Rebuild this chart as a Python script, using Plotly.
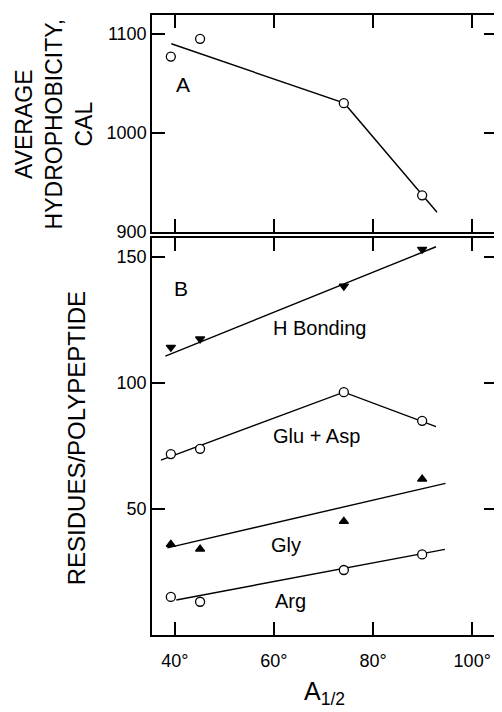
import plotly.graph_objects as go

# Sample positions (A 1/2, degrees)
x_samples = [39.2, 45.1, 74.1, 89.9]

# Panel A: average hydrophobicity (cal)
hydro = [1077, 1095, 1030, 937]
hydro_fit_x = [39.3, 74.2, 92.9]
hydro_fit_y = [1090, 1030, 920]

# Panel B: residues / polypeptide
h_bond = [114.2, 117.5, 138.5, 153.1]
h_bond_fit_x = [38.1, 92.7]
h_bond_fit_y = [110.7, 154.1]

glu_asp = [71.8, 73.9, 96.4, 85.0]
glu_asp_fit_x = [37.2, 74.1, 92.7]
glu_asp_fit_y = [69.4, 96.4, 82.7]

gly = [36.0, 34.1, 45.1, 61.9]
gly_fit_x = [38.5, 94.6]
gly_fit_y = [34.6, 60.2]

arg = [15.1, 13.2, 25.8, 32.0]
arg_fit_x = [40.3, 94.5]
arg_fit_y = [13.9, 34.0]

x_ticks = [40, 60, 80, 100]
x_tick_labels = ["40°", "60°", "80°", "100°"]
top_ticks = [900, 1000, 1100]
bottom_ticks = [50, 100, 150]

FONT = "Liberation Sans"
BLACK = "black"

fig = go.Figure()

def line(x, y, ax):
    fig.add_trace(go.Scatter(x=x, y=y, mode="lines", line=dict(color=BLACK, width=1.4),
                             xaxis=ax[0], yaxis=ax[1], showlegend=False, hoverinfo="skip"))

def pts(x, y, ax, symbol):
    filled = "triangle" in symbol
    fig.add_trace(go.Scatter(
        x=x, y=y, mode="markers", xaxis=ax[0], yaxis=ax[1], showlegend=False,
        marker=dict(symbol=symbol, size=9 if not filled else 8,
                    color=BLACK if filled else "white",
                    line=dict(color=BLACK, width=1.3))))

top = ("x2", "y2")
bot = ("x", "y")

line(hydro_fit_x, hydro_fit_y, top)
pts(x_samples, hydro, top, "circle")

line(h_bond_fit_x, h_bond_fit_y, bot)
pts(x_samples, h_bond, bot, "triangle-down")
line(glu_asp_fit_x, glu_asp_fit_y, bot)
pts(x_samples, glu_asp, bot, "circle")
line(gly_fit_x, gly_fit_y, bot)
pts(x_samples, gly, bot, "triangle-up")
line(arg_fit_x, arg_fit_y, bot)
pts(x_samples, arg, bot, "circle")

axis_common = dict(showline=True, linecolor=BLACK, linewidth=1.5, mirror="ticks",
                   ticks="inside", ticklen=13, tickwidth=1.5, tickcolor=BLACK,
                   showgrid=False, zeroline=False,
                   tickfont=dict(family=FONT, size=18, color=BLACK))

x_range = [35.4, 105.0]
fig.update_layout(
    width=494, height=704,
    margin=dict(l=144, r=3, t=7, b=77),
    plot_bgcolor="white", paper_bgcolor="white",
    font=dict(family=FONT, color=BLACK),
    xaxis=dict(range=x_range, tickvals=x_ticks, ticktext=x_tick_labels,
               anchor="y", ticklabelstandoff=9,
               title=dict(text="A<sub>1/2</sub>", font=dict(family=FONT, size=25, color=BLACK),
                          standoff=12),
               **axis_common),
    yaxis=dict(range=[0, 157.5], tickvals=bottom_ticks, domain=[0, 0.640],
               anchor="x", **axis_common),
    xaxis2=dict(range=x_range, tickvals=x_ticks, showticklabels=False,
                anchor="y2", matches="x", **axis_common),
    yaxis2=dict(range=[900, 1119], tickvals=top_ticks, domain=[0.650, 1.0],
                anchor="x2", **axis_common),
)

def label(text, x, y, ax, size=20):
    fig.add_annotation(text=text, x=x, y=y, xref=ax[0], yref=ax[1], showarrow=False,
                       font=dict(family=FONT, size=size, color=BLACK),
                       xanchor="center", yanchor="middle")

label("A", 41.6, 1048.5, top, 21)
label("B", 41.2, 137.7, bot, 21)
label("H Bonding", 69.1, 121.8, bot)
label("Glu + Asp", 68.5, 79.0, bot)
label("Gly", 62.5, 35.7, bot)
label("Arg", 63.3, 13.5, bot)

fig.add_annotation(text="AVERAGE<br>HYDROPHOBICITY,<br>CAL", textangle=-90,
                   x=-0.285, y=0.823, xref="paper", yref="paper", showarrow=False,
                   xanchor="center", yanchor="middle",
                   font=dict(family=FONT, size=23, color=BLACK))
fig.add_annotation(text="RESIDUES/POLYPEPTIDE", textangle=-90,
                   x=-0.219, y=0.318, xref="paper", yref="paper", showarrow=False,
                   xanchor="center", yanchor="middle",
                   font=dict(family=FONT, size=24, color=BLACK))

fig.write_html("out.html")
